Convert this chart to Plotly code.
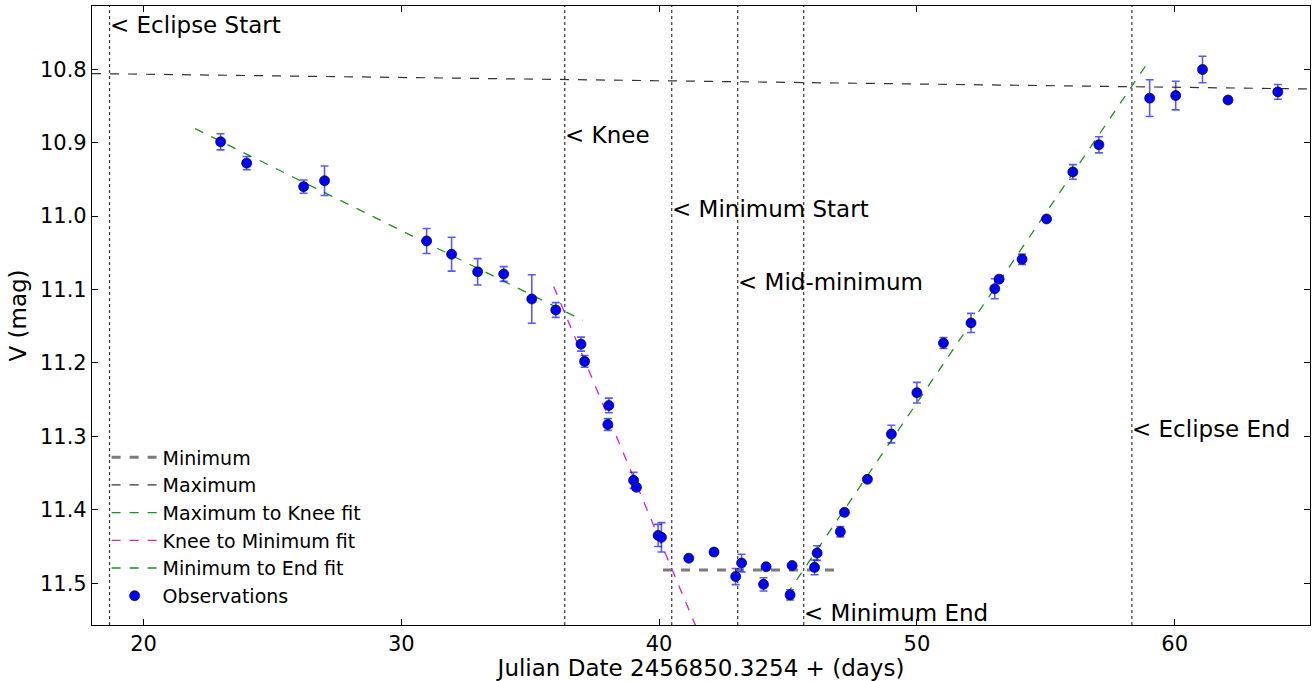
import plotly.graph_objects as go

# ---- Observations ----
obs_x = [22.99, 24.00, 26.21, 27.02, 30.98, 31.95, 32.96, 33.97, 35.06, 35.99,
         36.97, 37.11, 38.05, 38.01, 39.01, 39.12, 39.96, 40.09, 41.15, 42.13,
         42.97, 43.20, 44.05, 44.15, 45.08, 45.16, 46.03, 46.13, 47.03, 47.19,
         48.08, 49.01, 50.00, 51.03, 52.10, 53.02, 53.19, 54.08, 55.03, 56.05,
         57.06, 59.03, 60.04, 61.08, 62.07, 64.00]
obs_v = [10.899, 10.928, 10.960, 10.952, 11.034, 11.052, 11.076, 11.079, 11.113, 11.128,
         11.1745, 11.198, 11.258, 11.284, 11.360, 11.3695, 11.435, 11.4376, 11.466, 11.4577,
         11.491, 11.4726, 11.5016, 11.4777, 11.516, 11.476, 11.4785, 11.459, 11.430, 11.4036,
         11.3586, 11.297, 11.2406, 11.173, 11.1456, 11.099, 11.086, 11.0589, 11.004, 10.940,
         10.903, 10.8395, 10.836, 10.8005, 10.842, 10.831]
obs_err = [0.011, 0.009, 0.009, 0.020, 0.017, 0.023, 0.018, 0.010, 0.033, 0.010,
           0.0095, 0.008, 0.010, 0.008, 0.011, 0.004, 0.015, 0.020, 0.002, 0.002,
           0.011, 0.012, 0.009, 0.002, 0.007, 0.002, 0.010, 0.010, 0.007, 0.002,
           0.002, 0.012, 0.014, 0.0075, 0.013, 0.0136, 0.002, 0.007, 0.002, 0.010,
           0.011, 0.025, 0.0195, 0.018, 0.002, 0.010]

# ---- Fitted / reference lines: [x0, x1], [y0, y1] ----
min_line_x = [40.15, 47.0]
min_line_y = [11.482, 11.482]
max_line_x = [18.0, 65.25]
max_line_y = [10.806, 10.827]
fit1_x = [22.0, 37.04]
fit1_y = [10.881, 11.142]
fit2_x = [35.91, 42.0]
fit2_y = [11.096, 11.607]
fit3_x = [44.94, 59.04]
fit3_y = [11.516, 10.787]

# ---- Event markers ----
event_x = [18.68, 36.34, 40.49, 43.05, 45.61, 58.34]
event_labels = ["< Eclipse Start", "< Knee", "< Minimum Start", "< Mid-minimum",
                "< Minimum End", "< Eclipse End"]
event_label_y = [10.740, 10.890, 10.990, 11.090, 11.540, 11.290]

x_range = [18.0, 65.25]
y_range = [11.557, 10.714]
x_ticks = [20, 30, 40, 50, 60]
y_ticks = [10.8, 10.9, 11.0, 11.1, 11.2, 11.3, 11.4, 11.5]

FONT = "DejaVu Sans"

fig = go.Figure()

fig.add_trace(go.Scatter(x=min_line_x, y=min_line_y, mode="lines", name="Minimum",
                         line=dict(color="rgba(100,100,100,0.85)", width=3, dash="dash")))
fig.add_trace(go.Scatter(x=max_line_x, y=max_line_y, mode="lines", name="Maximum",
                         line=dict(color="rgba(0,0,0,0.8)", width=1.2, dash="dash")))
fig.add_trace(go.Scatter(x=fit1_x, y=fit1_y, mode="lines", name="Maximum to Knee fit",
                         line=dict(color="#1f8f1f", width=1.3, dash="dash")))
fig.add_trace(go.Scatter(x=fit2_x, y=fit2_y, mode="lines", name="Knee to Minimum fit",
                         line=dict(color="#cc22cc", width=1.3, dash="dash")))
fig.add_trace(go.Scatter(x=fit3_x, y=fit3_y, mode="lines", name="Minimum to End fit",
                         line=dict(color="#1f8f1f", width=1.3, dash="dash")))
fig.add_trace(go.Scatter(x=obs_x, y=obs_v, mode="markers", name="Observations",
                         marker=dict(color="#0000ff", size=10,
                                     line=dict(color="#000022", width=0.7)),
                         error_y=dict(type="data", array=obs_err, visible=True,
                                      color="rgba(0,0,255,0.65)", thickness=1.6, width=4)))

for ex, lab, ly in zip(event_x, event_labels, event_label_y):
    fig.add_shape(type="line", x0=ex, x1=ex, xref="x", y0=0, y1=1, yref="paper",
                  line=dict(color="#333333", width=1.2, dash="dot"), layer="below")
    fig.add_annotation(x=ex, y=ly, xref="x", yref="y", text=lab, showarrow=False,
                       xanchor="left", yanchor="middle", xshift=-2,
                       font=dict(family=FONT, size=23, color="black"))

axis_common = dict(showline=True, linecolor="black", linewidth=1.2, mirror="ticks",
                   ticks="inside", ticklen=6, tickcolor="black", showgrid=False,
                   zeroline=False, tickfont=dict(family=FONT, size=21, color="black"))

fig.update_layout(
    width=1312, height=681,
    margin=dict(l=92, r=2, t=6, b=56),
    paper_bgcolor="white", plot_bgcolor="white",
    font=dict(family=FONT, color="black"),
    xaxis=dict(range=x_range, tickvals=x_ticks,
               title=dict(text="Julian Date 2456850.3254 + (days)",
                          font=dict(family=FONT, size=23), standoff=4),
               **axis_common),
    yaxis=dict(range=y_range, tickvals=y_ticks, tickformat=".1f",
               title=dict(text="V (mag)", font=dict(family=FONT, size=23), standoff=6),
               **axis_common),
    legend=dict(x=0.012, y=0.3015, xanchor="left", yanchor="top",
                bgcolor="rgba(0,0,0,0)", borderwidth=0,
                font=dict(family=FONT, size=19, color="black"),
                itemwidth=46, tracegroupgap=0),
    showlegend=True,
)

fig.write_html("out.html", config={"displayModeBar": False},
               post_script="document.body.style.margin='0px';document.body.style.overflow='hidden';")
